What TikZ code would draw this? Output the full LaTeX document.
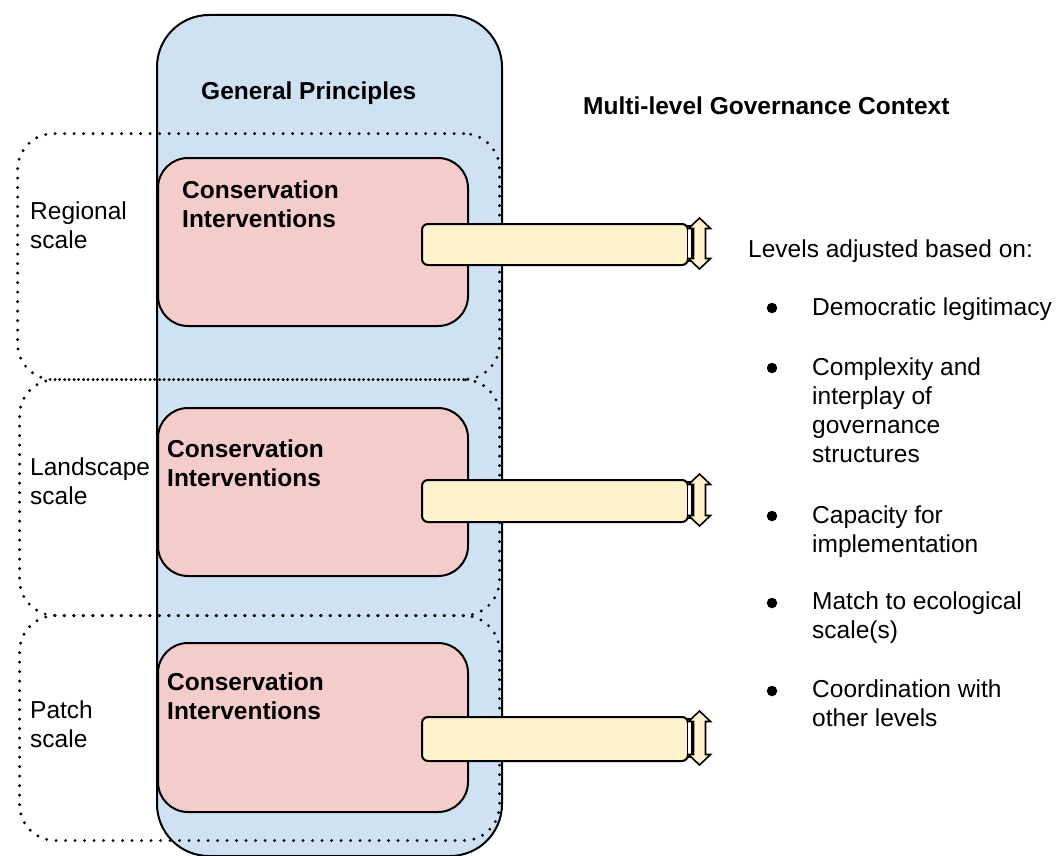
\documentclass[tikz,border=0pt]{standalone}
\usepackage{fontspec}
\setmainfont{Liberation Sans}
\definecolor{gpblue}{HTML}{CFE2F3}
\definecolor{cipink}{HTML}{F4CCCC}
\definecolor{baryellow}{HTML}{FFF2CC}
\begin{document}
\begin{tikzpicture}[x=1pt,y=-1pt,
  box/.style={draw=black, line width=2pt, inner sep=0pt, anchor=north west},
  gpbox/.style={box, fill=gpblue, rounded corners=52pt},
  cibox/.style={box, fill=cipink, rounded corners=30pt},
  barbox/.style={box, fill=baryellow, rounded corners=6pt},
  scalebox/.style={draw=black, line width=3.2pt, dash pattern=on 0pt off 9.5pt, line cap=round, rounded corners=36pt, inner sep=0pt, anchor=north west},
  txt/.style={inner sep=0pt, anchor=base west, align=left, font=\fontsize{24.5}{29}\selectfont},
  btxt/.style={inner sep=0pt, anchor=base west, align=left, font=\fontsize{24.5}{29}\selectfont\bfseries},
  dot/.style={circle, fill=black, inner sep=0pt, minimum size=10.5pt},
  arrowshape/.style={draw=black, line width=1.6pt, fill=baryellow, line join=miter},
  gapbox/.style={draw=black, line width=1.4pt, fill=white}
]
\clip (0,0) rectangle (1057,856);
\fill[white] (0,0) rectangle (1057,856);

% General principles column
\node[gpbox, minimum width=345pt, minimum height=841pt] (gp) at (156,14) {};
\node[btxt] (gptitle) at (201,100) {General Principles};

% scale boxes (dotted)
\node[scalebox, minimum width=482pt, minimum height=246pt] (regional) at (16,132) {};
\node[scalebox, minimum width=480pt, minimum height=236pt] (landscape) at (18,378) {};
\node[scalebox, minimum width=480pt, minimum height=225pt] (patch) at (18,614) {};

% multi-line nodes: base anchor = baseline of the last line
\node[txt] (regionaltxt) at (30,248) {Regional\\scale};
\node[txt] (landscapetxt) at (30,504) {Landscape\\scale};
\node[txt] (patchtxt) at (30,747) {Patch\\scale};

% conservation intervention boxes
\node[cibox, minimum width=310pt, minimum height=168pt] (ci1) at (157,157) {};
\node[cibox, minimum width=310pt, minimum height=168pt] (ci2) at (157,407) {};
\node[cibox, minimum width=310pt, minimum height=169pt] (ci3) at (157,642) {};
\node[btxt] (ci1txt) at (182,227) {Conservation\\Interventions};
\node[btxt] (ci2txt) at (167,486) {Conservation\\Interventions};
\node[btxt] (ci3txt) at (167,719) {Conservation\\Interventions};

% bars with double arrows
\newcommand\levelbar[3]{%
  \node[barbox, minimum width=266pt, minimum height=#2pt] (bar#1) at (421,#3) {};
  \draw[gapbox] (687.5,#3+3) rectangle (692,#3+#2-3);
  \draw[arrowshape] (699.5,#3-5) -- (710.5,#3+5.5) -- (705.5,#3+5.5) -- (705.5,#3+#2-5.5)
     -- (710.5,#3+#2-5.5) -- (699.5,#3+#2+5) -- (688.5,#3+#2-5.5) -- (693.5,#3+#2-5.5)
     -- (693.5,#3+5.5) -- (688.5,#3+5.5) -- cycle;
}
\levelbar{1}{41}{223}
\levelbar{2}{42}{479}
\levelbar{3}{44}{716}

% governance context
\node[btxt] (mlgc) at (583,114) {Multi-level Governance Context};
\node[txt] (levels) at (748,257) {Levels adjusted based on:};

\node[dot] (b1) at (772,308) {};
\node[txt] (t1) at (812,315) {Democratic legitimacy};
\node[dot] (b2) at (772,368) {};
\node[txt] (t2) at (812,462) {Complexity and\\interplay of\\governance\\structures};
\node[dot] (b3) at (772,516) {};
\node[txt] (t3) at (812,552) {Capacity for\\implementation};
\node[dot] (b4) at (772,603) {};
\node[txt] (t4) at (812,638) {Match to ecological\\scale(s)};
\node[dot] (b5) at (772,691) {};
\node[txt] (t5) at (812,726) {Coordination with\\other levels};
\end{tikzpicture}
\end{document}
